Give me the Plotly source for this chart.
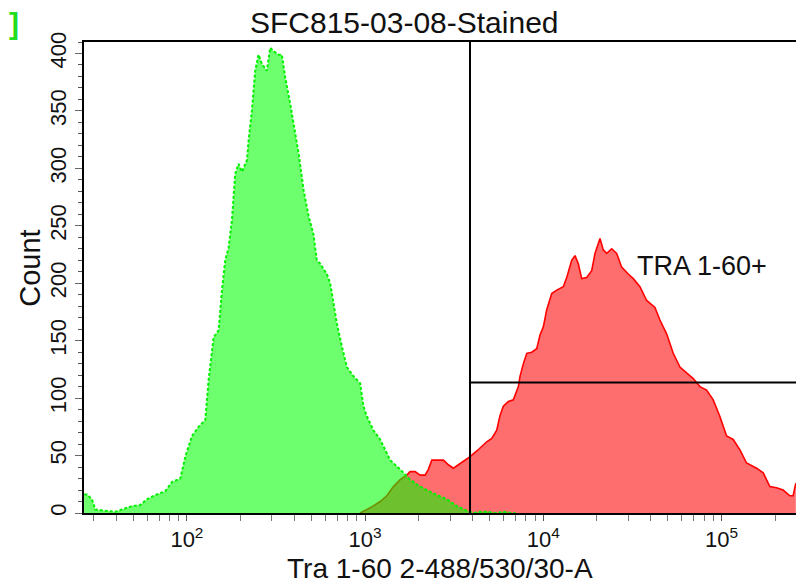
import math
import plotly.graph_objects as go

# ---------------- data ----------------
title_text = "SFC815-03-08-Stained"
x_title = "Tra 1-60 2-488/530/30-A"
y_title = "Count"
gate_label = "TRA 1-60+"

# unstained-like green population (intensity, count)
green_x = [26.5, 27.5, 29.3, 30.6, 34.8, 39.6, 43.2, 49.2, 54.8, 59.7, 65.1, 70.9, 75.6,
           82.5, 91.8, 98, 106.8, 116.4, 126.8, 132.4, 141.3, 150.7, 157.3, 164.2, 171.4,
           178.9, 186.7, 195, 203.5, 217.2, 221.9, 231.6, 241.7, 252.3, 263.4, 281.1, 293.4,
           306.3, 326.9, 341.2, 356.2, 380.2, 396.8, 423.6, 451.9, 482.3, 513, 536, 560,
           610, 637, 665, 694, 741, 790, 861, 938, 979, 1023, 1114, 1215, 1296, 1382,
           1573, 1790, 2037, 2418, 2875, 3271, 3722, 4054, 4400, 4900, 5400, 6000, 6600, 7000]
green_y = [16, 16, 12, 3, 2, 1, 3, 6, 7, 12, 15, 17, 19,
           27, 30, 49, 67, 75, 81, 116, 153, 159, 194, 220, 231,
           255, 295, 304, 297, 307, 324, 350, 385, 399, 391, 385, 405,
           402, 399, 399, 379, 356, 339, 313, 281, 258, 243, 220, 217,
           208, 200, 182, 165, 145, 127, 119, 113, 93, 84, 72, 64, 55, 46,
           38, 29, 23, 17, 12, 6, 2, 0, 1, 1, 0, 1, 0, 0]

# stained red population (intensity, count)
red_x = [938, 1068, 1215, 1324, 1443, 1573, 1715, 1790, 1909, 2037, 2172, 2267, 2368,
         2527, 2752, 2935, 3131, 3340, 3562, 3884, 4236, 4518, 4819, 5140, 5483, 5721,
         5970, 6369, 6794, 7249, 7406, 7734, 8078, 8615, 9190, 9590, 10009, 10459, 11155,
         11898, 12960, 13542, 14444, 15074, 15730, 16437, 17535, 18704, 19518, 20820,
         21727, 22700, 24210, 25823, 27542, 30002, 32003, 34886, 38054, 42348, 45167,
         49262, 53640, 58510, 63790, 69455, 75750, 82575, 89920, 98040, 106900, 116410,
         126940, 138420, 157540, 171560, 187020, 203860, 222040, 242100, 252650, 261550]
red_y = [0, 4.5, 10, 15, 23, 29, 33, 36, 36, 33, 33, 38, 46,
         46, 46, 42, 39, 42, 45, 49, 54, 58, 62, 65, 72, 85,
         93, 97, 98.5, 110, 119, 130, 139, 140, 143, 155, 162, 177, 191,
         194, 197, 205, 220, 224, 217, 204, 205, 211, 226, 239,
         229, 226, 230, 226, 214, 208, 204, 197, 185, 179, 168,
         156, 139, 127, 122, 117, 110, 107, 98.5, 84, 67, 64,
         55, 43.5, 39, 35, 23, 22, 20, 15, 15, 26]

# gate (range gate marker)
gate_x = 3880
gate_y = 113.5

x_min = 26.45
x_max = 262144
y_max = 410

x_major = [100, 1000, 10000, 100000]
x_major_text = ["10<sup>2</sup>", "10<sup>3</sup>", "10<sup>4</sup>", "10<sup>5</sup>"]
x_minor = [d * m for d in [10, 100, 1000, 10000, 100000] for m in range(2, 10)
           if x_min <= d * m <= x_max]
y_major = list(range(0, 401, 50))

# ---------------- figure ----------------
FONT = "Liberation Sans, Arial, sans-serif"
fig = go.Figure()

fig.add_trace(go.Scatter(
    x=red_x, y=red_y, mode="lines", fill="tozeroy",
    line=dict(color="rgb(255,0,0)", width=1.6),
    fillcolor="rgba(255,0,0,0.57)", hoverinfo="skip"))

fig.add_trace(go.Scatter(
    x=green_x, y=green_y, mode="lines", fill="tozeroy",
    line=dict(color="rgb(0,240,0)", width=2, dash="3px,2px"),
    fillcolor="rgba(0,255,0,0.57)", hoverinfo="skip"))

# gate lines
fig.add_trace(go.Scatter(
    x=[gate_x, gate_x], y=[0, y_max], mode="lines",
    line=dict(color="black", width=2), hoverinfo="skip"))
fig.add_trace(go.Scatter(
    x=[gate_x, x_max], y=[gate_y, gate_y], mode="lines",
    line=dict(color="black", width=2), hoverinfo="skip"))

W, H = 796, 584
L, R, T = 84, 0, 42
B = H - 513.5
pw, ph = W - L - R, H - T - B


def px(x):
    return (x - L) / pw


def py(y):
    return (H - B - y) / ph


fig.update_layout(
    width=W, height=H,
    margin=dict(l=L, r=R, t=T, b=B, pad=0, autoexpand=False),
    paper_bgcolor="white", plot_bgcolor="white",
    showlegend=False,
    hovermode=False,
    font=dict(family=FONT, color="#111111"),
    xaxis=dict(
        type="log", range=[math.log10(x_min), math.log10(x_max)],
        automargin=False,
        showline=True, linecolor="black", linewidth=2, mirror=True,
        showgrid=False, zeroline=False,
        tickmode="array", tickvals=x_major, ticktext=x_major_text,
        ticks="outside", ticklen=6, tickcolor="#555555", tickwidth=1,
        tickfont=dict(size=22, family=FONT, color="#111111"),
        minor=dict(tickvals=x_minor, ticks="outside", ticklen=6,
                   tickcolor="#777777", tickwidth=1),
    ),
    yaxis=dict(
        range=[0, y_max],
        automargin=False,
        showline=True, linecolor="black", linewidth=2,
        showgrid=False, zeroline=False,
        tickmode="array", tickvals=y_major,
        ticks="outside", ticklen=7, tickcolor="#666666", tickwidth=1,
        tickangle=-90,
        tickfont=dict(size=22, family=FONT, color="#111111"),
        minor=dict(dtick=10, ticks="outside", ticklen=4,
                   tickcolor="#555555", tickwidth=1),
    ),
    annotations=[
        dict(text=title_text, xref="paper", yref="paper", x=px(404), y=py(22),
             xanchor="center", yanchor="middle", showarrow=False,
             font=dict(size=30, family=FONT, color="#111111")),
        dict(text=x_title, xref="paper", yref="paper", x=px(440), y=py(569),
             xanchor="center", yanchor="middle", showarrow=False,
             font=dict(size=28, family=FONT, color="#111111")),
        dict(text=y_title, xref="paper", yref="paper", x=px(30), y=py(269),
             xanchor="center", yanchor="middle", showarrow=False, textangle=-90,
             font=dict(size=29, family=FONT, color="#111111")),
        dict(text=gate_label, xref="paper", yref="paper", x=px(702), y=py(266),
             xanchor="center", yanchor="middle", showarrow=False,
             font=dict(size=27, family=FONT, color="#111111")),
        dict(text="<b>]</b>", xref="paper", yref="paper", x=px(14), y=py(23),
             xanchor="center", yanchor="middle", showarrow=False,
             font=dict(size=30, family=FONT, color="#22dd22")),
    ],
)

fig.write_html(
    "out.html",
    config={"displayModeBar": False, "staticPlot": True},
    post_script="document.body.style.margin='0';"
                "document.documentElement.style.overflow='hidden';",
)
